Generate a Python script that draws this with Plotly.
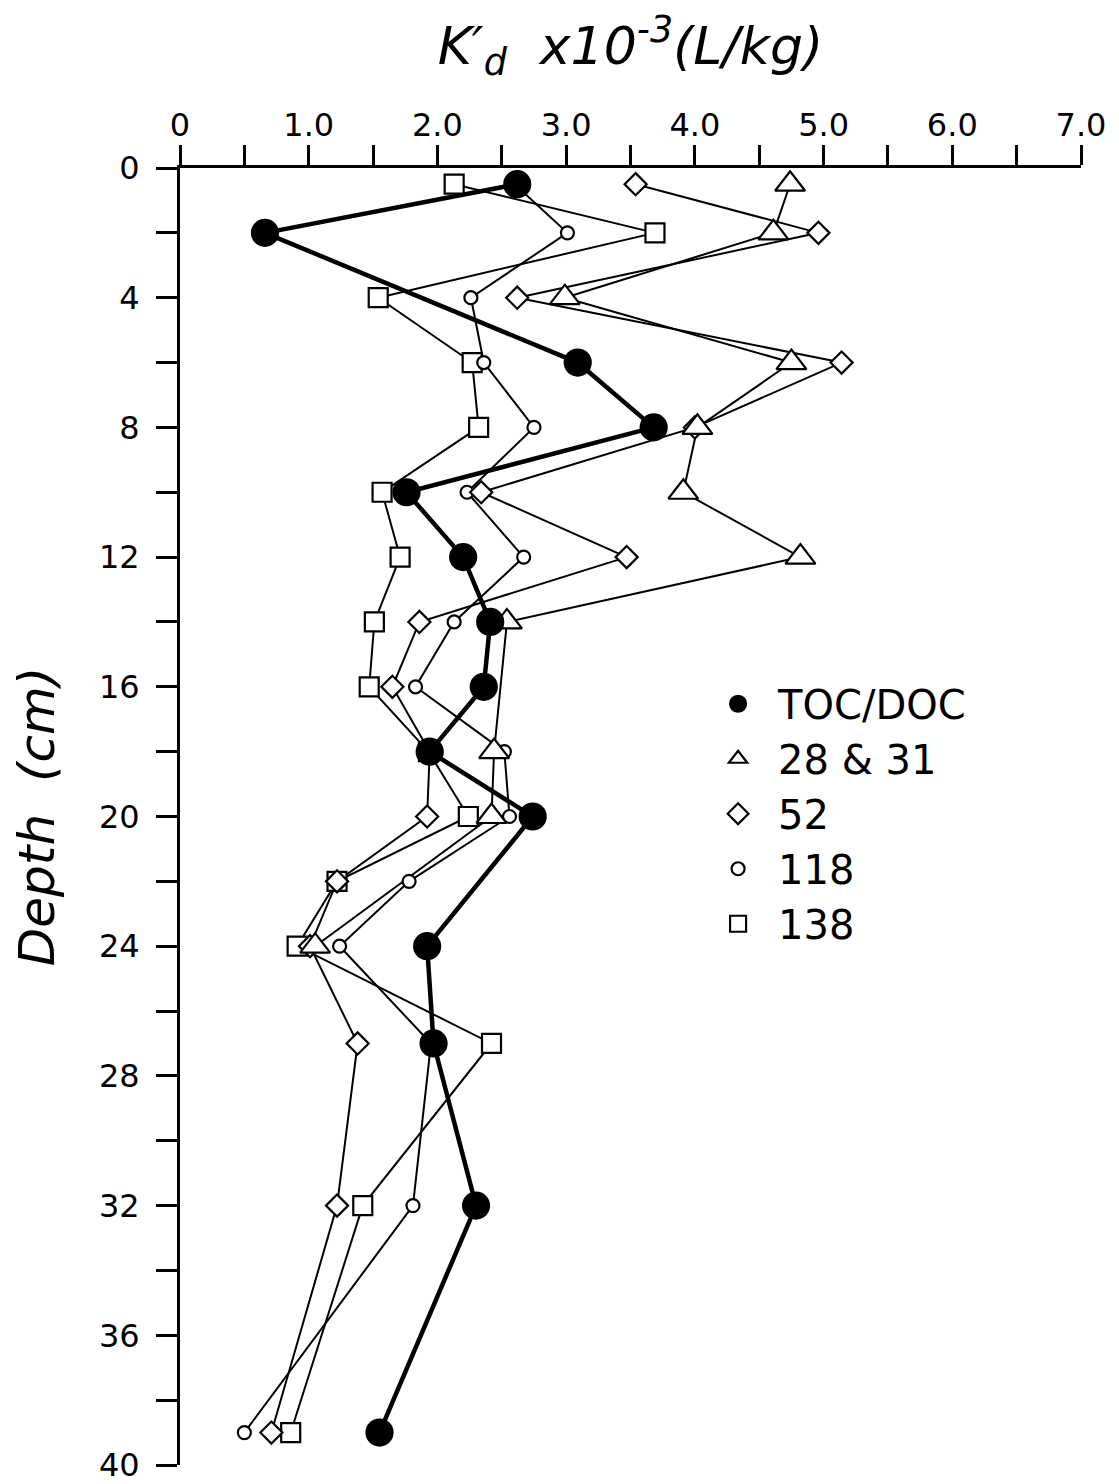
import plotly.graph_objects as go

# depth (cm) and K'd x10^-3 (L/kg)
depth_toc = [0.5, 2, 6, 8, 10, 12, 14, 16, 18, 20, 24, 27, 32, 39]
kd_toc = [2.62, 0.66, 3.09, 3.68, 1.76, 2.20, 2.41, 2.36, 1.94, 2.74, 1.92, 1.97, 2.30, 1.55]

depth_28 = [0.5, 2, 4, 6, 8, 10, 12, 14, 18, 20, 24]
kd_28 = [4.74, 4.61, 2.99, 4.75, 4.02, 3.91, 4.82, 2.54, 2.44, 2.42, 1.05]

depth_52 = [0.5, 2, 4, 6, 8, 10, 12, 14, 16, 18, 20, 22, 24, 27, 32, 39]
kd_52 = [3.54, 4.96, 2.62, 5.14, 4.00, 2.34, 3.47, 1.86, 1.65, 1.94, 1.92, 1.22, 1.01, 1.38, 1.22, 0.71]

depth_118 = [0.5, 2, 4, 6, 8, 10, 12, 14, 16, 18, 20, 22, 24, 27, 32, 39]
kd_118 = [2.60, 3.01, 2.26, 2.36, 2.75, 2.23, 2.67, 2.13, 1.83, 2.52, 2.56, 1.78, 1.24, 1.95, 1.81, 0.50]

depth_138 = [0.5, 2, 4, 6, 8, 10, 12, 14, 16, 18, 20, 22, 24, 27, 32, 39]
kd_138 = [2.13, 3.69, 1.54, 2.27, 2.32, 1.57, 1.71, 1.51, 1.47, 1.93, 2.24, 1.22, 0.91, 2.42, 1.42, 0.86]

x_ticks = [0, 1, 2, 3, 4, 5, 6, 7]
x_labels = ["0", "1.0", "2.0", "3.0", "4.0", "5.0", "6.0", "7.0"]
y_ticks = list(range(0, 41, 4))

FONT = "DejaVu Sans, sans-serif"

# name, x, y, symbol, size, line width, fill, legend rank
series = [
    ("138", kd_138, depth_138, "square", 19, 2, "white", 5),
    ("118", kd_118, depth_118, "circle", 13, 2, "white", 4),
    ("52", kd_52, depth_52, "diamond", 17, 2, "white", 3),
    ("28 & 31", kd_28, depth_28, "triangle-up", 26, 2, "white", 2),
    ("TOC/DOC", kd_toc, depth_toc, "circle", 26, 4.5, "black", 1),
]

fig = go.Figure()

# connecting lines first, markers on top
for name, x, y, sym, size, lw, fill, rank in series:
    fig.add_trace(go.Scatter(x=x, y=y, mode="lines", showlegend=False,
                             line=dict(color="black", width=lw), hoverinfo="skip"))
for name, x, y, sym, size, lw, fill, rank in series:
    fig.add_trace(go.Scatter(
        x=x, y=y, name=name, mode="markers", legendrank=rank, cliponaxis=False,
        marker=dict(symbol=sym, size=size, color=fill, line=dict(color="black", width=2.2)),
    ))

# page body has an 8px default margin, so margins are shifted by that
fig.update_layout(
    width=1119, height=1484,
    margin=dict(l=172, r=46, t=160, b=27, autoexpand=False),
    paper_bgcolor="white", plot_bgcolor="white",
    font=dict(family=FONT, color="black", size=31),
    showlegend=True,
    legend=dict(x=0.575, y=0.612, xanchor="left", yanchor="top",
                font=dict(size=40, family=FONT), bgcolor="rgba(0,0,0,0)",
                tracegroupgap=0, itemsizing="trace", itemwidth=70),
)

fig.update_xaxes(
    side="top", range=[0, 7], tickvals=x_ticks, ticktext=x_labels, automargin=False,
    showgrid=False, zeroline=False, showline=True, linecolor="black", linewidth=3,
    ticks="outside", ticklen=20, tickwidth=2.5, tickcolor="black",
    minor=dict(dtick=0.5, ticks="outside", ticklen=20, tickwidth=2.5, tickcolor="black"),
    tickfont=dict(size=32), ticklabeloverflow="allow", ticklabelstandoff=-4,
    title=dict(text="<i>K′<sub>d</sub>  x10<sup>-3</sup>(L/kg)</i>", font=dict(size=52), standoff=32),
)
fig.update_yaxes(
    range=[40, 0], tickvals=y_ticks, automargin=False,
    showgrid=False, zeroline=False, showline=True, linecolor="black", linewidth=3,
    ticks="outside", ticklen=21, tickwidth=2.5, tickcolor="black",
    minor=dict(dtick=2, ticks="outside", ticklen=21, tickwidth=2.5, tickcolor="black"),
    tickfont=dict(size=32), ticklabeloverflow="allow", ticklabelstandoff=10,
    title=dict(text="<i>Depth  (cm)</i>", font=dict(size=50), standoff=34),
)

fig.write_html("out.html")
